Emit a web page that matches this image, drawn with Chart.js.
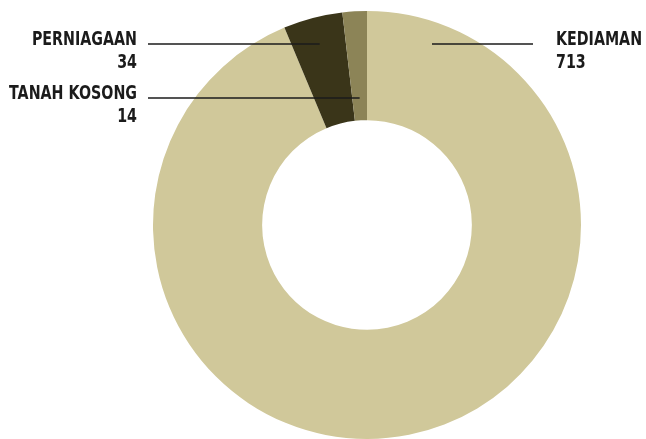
<!DOCTYPE html>
<html>
<head>
<meta charset="utf-8">
<script src="https://cdn.jsdelivr.net/npm/chart.js@4"></script>
<style>
  html, body { margin: 0; padding: 0; background: #fff; }
  #wrap { width: 646px; height: 439px; position: relative; }
</style>
</head>
<body>
<div id="wrap"><canvas id="pie"></canvas></div>
<script>
var labels = ['KEDIAMAN', 'PERNIAGAAN', 'TANAH KOSONG'];
var values = [713, 34, 14];
var colors = ['#D0C89A', '#3A3519', '#8C8457'];

// label placement: text anchor and leader line
var callouts = [
    { side: 'right', textX: 556, lineY: 44, lineFrom: 533, lineTo: 432 },
    { side: 'left', textX: 137, lineY: 44, lineFrom: 148 },
    { side: 'left', textX: 137, lineY: 98, lineFrom: 148 }
];

// the source uses a condensed face, so squeeze the text horizontally
function drawCondensed(ctx, text, x, y, sx) {
    ctx.save();
    ctx.translate(x, y);
    ctx.scale(sx, 1);
    ctx.fillText(text, 0, 0);
    ctx.restore();
}

var calloutPlugin = {
    id: 'callouts',
    afterDraw: function (chart) {
        var ctx = chart.ctx;
        var meta = chart.getDatasetMeta(0);
        ctx.save();
        ctx.font = 'bold 19px "DejaVu Sans", sans-serif';
        ctx.fillStyle = '#1b1b1b';
        ctx.strokeStyle = '#1b1b1b';
        ctx.lineWidth = 1.5;
        var sx = 128 / ctx.measureText('TANAH KOSONG').width;
        callouts.forEach(function (c, i) {
            var arc = meta.data[i];
            var end = c.lineTo;
            if (end === undefined) {
                // run the line to the slice's middle angle
                var mid = (arc.startAngle + arc.endAngle) / 2;
                var dy = c.lineY - arc.y;
                end = arc.x + dy / Math.sin(mid) * Math.cos(mid);
            }
            ctx.beginPath();
            ctx.moveTo(c.lineFrom, c.lineY);
            ctx.lineTo(end, c.lineY);
            ctx.stroke();

            ctx.textAlign = c.side === 'left' ? 'right' : 'left';
            ctx.textBaseline = 'alphabetic';
            drawCondensed(ctx, labels[i], c.textX, c.lineY + 1, sx);
            drawCondensed(ctx, String(values[i]), c.textX, c.lineY + 24, sx);
        });
        ctx.restore();
    }
};

new Chart(document.getElementById('pie').getContext('2d'), {
    type: 'doughnut',
    data: {
        labels: labels,
        datasets: [{
            data: values,
            backgroundColor: colors,
            borderWidth: 0
        }]
    },
    options: {
        responsive: true,
        maintainAspectRatio: false,
        animation: false,
        cutout: '49%',
        layout: { padding: { top: 11, bottom: 0, left: 88, right: 0 } },
        plugins: {
            legend: { display: false },
            tooltip: { enabled: false }
        }
    },
    plugins: [calloutPlugin]
});
</script>
</body>
</html>
